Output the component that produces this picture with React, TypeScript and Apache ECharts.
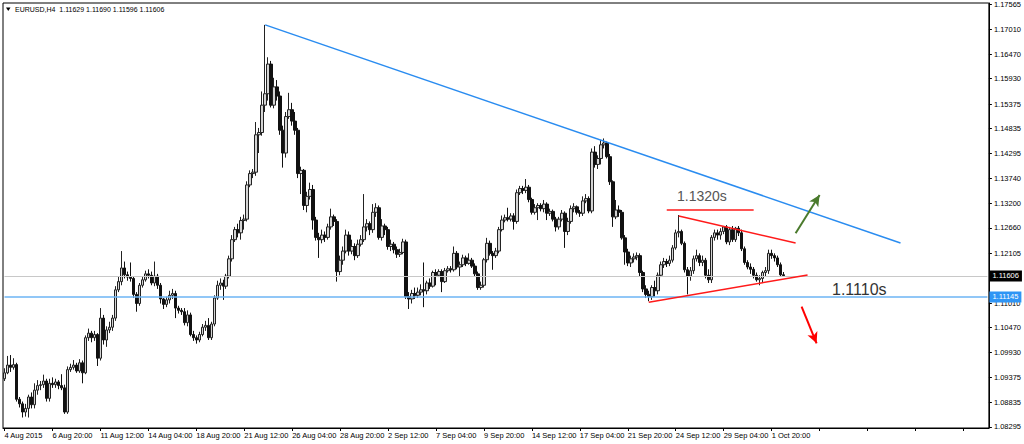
import React, { useEffect, useRef } from "react";
import * as echarts from "echarts";

// ---- x-axis tick labels (every 16th H4 bar) ----
const tickLabels = [
  "4 Aug 2015", "6 Aug 20:00", "11 Aug 12:00", "14 Aug 04:00", "18 Aug 20:00",
  "21 Aug 12:00", "26 Aug 04:00", "28 Aug 20:00", "2 Sep 12:00", "7 Sep 04:00",
  "9 Sep 20:00", "14 Sep 12:00", "17 Sep 04:00", "21 Sep 20:00", "24 Sep 12:00",
  "29 Sep 04:00", "1 Oct 20:00",
];
const tickEvery = 16;

// ---- y-axis tick labels ----
const yTicks = [
  1.08295, 1.08835, 1.09375, 1.0993, 1.1047, 1.1101, 1.12105, 1.1266, 1.132,
  1.1374, 1.14295, 1.14835, 1.15375, 1.1593, 1.1647, 1.1701, 1.17565,
];

// empty bar slots to the right of the last bar (chart shift)
const emptySlots = 68;

// ---- OHLC values of the EURUSD H4 bars ----
const opens = [
  1.0935, 1.0948, 1.0965, 1.0960, 1.0966, 1.0890, 1.0880, 1.0862, 1.0870, 1.0895,
  1.0878, 1.0910, 1.0920, 1.0922, 1.0930, 1.0892, 1.0925, 1.0922, 1.0928, 1.0920,
  1.0915, 1.0862, 1.0955, 1.0960, 1.0965, 1.0952, 1.0970, 1.0948, 1.1025, 1.1035,
  1.1025, 1.1032, 1.0980, 1.1068, 1.1020, 1.1042, 1.1048, 1.1068, 1.1130, 1.1148,
  1.1178, 1.1163, 1.1158, 1.1155, 1.1120, 1.1100, 1.1140, 1.1152, 1.1165, 1.1162,
  1.1145, 1.1160, 1.1140, 1.1110, 1.1098, 1.1108, 1.1118, 1.1122, 1.1090, 1.1085,
  1.1082, 1.1058, 1.1075, 1.1032, 1.1025, 1.1020, 1.1032, 1.1048, 1.1052, 1.1025,
  1.1055, 1.1112, 1.1140, 1.1145, 1.1138, 1.1160, 1.1198, 1.1240, 1.1262, 1.1255,
  1.1282, 1.1285, 1.1360, 1.1385, 1.1388, 1.1470, 1.1475, 1.1535, 1.1560, 1.1625,
  1.1535, 1.1575, 1.1555, 1.1480, 1.1430, 1.1510, 1.1525, 1.1500, 1.1480, 1.1385,
  1.1392, 1.1315, 1.1335, 1.1350, 1.1283, 1.1245, 1.1240, 1.1250, 1.1245, 1.1268,
  1.1290, 1.1280, 1.1170, 1.1195, 1.1215, 1.1250, 1.1215, 1.1225, 1.1205, 1.1230,
  1.1240, 1.1268, 1.1275, 1.1262, 1.1300, 1.1310, 1.1245, 1.1270, 1.1262, 1.1225,
  1.1230, 1.1218, 1.1208, 1.1212, 1.1235, 1.1115, 1.1110, 1.1122, 1.1118, 1.1125,
  1.1130, 1.1128, 1.1145, 1.1138, 1.1168, 1.1162, 1.1170, 1.1148, 1.1172, 1.1176,
  1.1174, 1.1210, 1.1180, 1.1185, 1.1200, 1.1188, 1.1195, 1.1182, 1.1165, 1.1135,
  1.1140, 1.1196, 1.1232, 1.1210, 1.1205, 1.1215, 1.1262, 1.1283, 1.1288, 1.1285,
  1.1292, 1.1280, 1.1343, 1.1352, 1.1348, 1.1355, 1.1328, 1.1300, 1.1310, 1.1315,
  1.1308, 1.1318, 1.1298, 1.1302, 1.1285, 1.1268, 1.1285, 1.1298, 1.1258, 1.1280,
  1.1308, 1.1312, 1.1300, 1.1298, 1.1325, 1.1330, 1.1303, 1.1432, 1.1405, 1.1418,
  1.1448, 1.1452, 1.1422, 1.1367, 1.1290, 1.1305, 1.1300, 1.1244, 1.1213, 1.1189,
  1.1198, 1.1202, 1.1205, 1.1168, 1.1132, 1.1120, 1.1115, 1.1135, 1.1128, 1.1162,
  1.1185, 1.1192, 1.1188, 1.1195, 1.1222, 1.1255, 1.1258, 1.1232, 1.1174, 1.1160,
  1.1172, 1.1198, 1.1205, 1.1190, 1.1195, 1.1162, 1.1152, 1.1245, 1.1255, 1.1250,
  1.1258, 1.1268, 1.1235, 1.1262, 1.1240, 1.1265, 1.1255, 1.1220, 1.1190, 1.1180,
  1.1175, 1.1162, 1.1152, 1.1155, 1.1168, 1.1172, 1.1210, 1.1205, 1.1200, 1.1185,
  1.1163,
];
const highs = [
  1.0958, 1.0985, 1.0987, 1.0980, 1.0970, 1.0895, 1.0885, 1.0880, 1.0900, 1.0905,
  1.0925, 1.0932, 1.0930, 1.0944, 1.0935, 1.0935, 1.0938, 1.0935, 1.0932, 1.0945,
  1.0922, 1.0962, 1.0968, 1.0976, 1.0970, 1.0978, 1.0975, 1.1030, 1.1045, 1.1040,
  1.1040, 1.1035, 1.1090, 1.1075, 1.1050, 1.1060, 1.1075, 1.1138, 1.1160, 1.1215,
  1.1192, 1.1170, 1.1190, 1.1160, 1.1125, 1.1145, 1.1158, 1.1172, 1.1175, 1.1170,
  1.1192, 1.1165, 1.1145, 1.1112, 1.1115, 1.1128, 1.1132, 1.1128, 1.1095, 1.1090,
  1.1090, 1.1085, 1.1080, 1.1040, 1.1030, 1.1038, 1.1055, 1.1062, 1.1068, 1.1060,
  1.1118, 1.1150, 1.1155, 1.1152, 1.1165, 1.1205, 1.1250, 1.1268, 1.1275, 1.1290,
  1.1295, 1.1368, 1.1392, 1.1395, 1.1498, 1.1485, 1.1565, 1.1711, 1.1640, 1.1632,
  1.1595, 1.1590, 1.1565, 1.1490, 1.1520, 1.1562, 1.1540, 1.1520, 1.1485, 1.1400,
  1.1395, 1.1345, 1.1365, 1.1360, 1.1290, 1.1255, 1.1262, 1.1258, 1.1275, 1.1308,
  1.1295, 1.1285, 1.1205, 1.1225, 1.1262, 1.1258, 1.1240, 1.1232, 1.1240, 1.1250,
  1.1340, 1.1285, 1.1280, 1.1318, 1.1320, 1.1315, 1.1285, 1.1275, 1.1268, 1.1240,
  1.1235, 1.1225, 1.1220, 1.1242, 1.1240, 1.1125, 1.1130, 1.1135, 1.1135, 1.1142,
  1.1190, 1.1150, 1.1155, 1.1172, 1.1175, 1.1175, 1.1175, 1.1178, 1.1182, 1.1182,
  1.1225, 1.1215, 1.1192, 1.1207, 1.1205, 1.1210, 1.1200, 1.1188, 1.1170, 1.1148,
  1.1200, 1.1244, 1.1238, 1.1215, 1.1222, 1.1268, 1.1293, 1.1295, 1.1310, 1.1298,
  1.1298, 1.1350, 1.1358, 1.1358, 1.1373, 1.1360, 1.1332, 1.1318, 1.1320, 1.1320,
  1.1327, 1.1322, 1.1308, 1.1306, 1.1290, 1.1290, 1.1305, 1.1302, 1.1288, 1.1315,
  1.1320, 1.1315, 1.1305, 1.1335, 1.1340, 1.1335, 1.1440, 1.1445, 1.1425, 1.1459,
  1.1462, 1.1455, 1.1428, 1.1370, 1.1327, 1.1315, 1.1305, 1.1250, 1.1220, 1.1205,
  1.1210, 1.1212, 1.1210, 1.1172, 1.1140, 1.1128, 1.1140, 1.1150, 1.1168, 1.1192,
  1.1200, 1.1198, 1.1205, 1.1228, 1.1262, 1.1294, 1.1262, 1.1236, 1.1180, 1.1180,
  1.1205, 1.1218, 1.1210, 1.1205, 1.1200, 1.1175, 1.1250, 1.1262, 1.1262, 1.1265,
  1.1270, 1.1272, 1.1268, 1.1270, 1.1268, 1.1270, 1.1262, 1.1225, 1.1195, 1.1188,
  1.1180, 1.1168, 1.1162, 1.1172, 1.1180, 1.1218, 1.1218, 1.1210, 1.1205, 1.1190,
  1.1169,
];
const lows = [
  1.0930, 1.0945, 1.0950, 1.0955, 1.0885, 1.0872, 1.0850, 1.0852, 1.0850, 1.0870,
  1.0870, 1.0900, 1.0910, 1.0915, 1.0885, 1.0885, 1.0915, 1.0915, 1.0912, 1.0910,
  1.0858, 1.0858, 1.0950, 1.0955, 1.0948, 1.0948, 1.0925, 1.0945, 1.1018, 1.1015,
  1.1018, 1.0963, 1.0975, 1.1010, 1.1005, 1.1035, 1.1040, 1.1062, 1.1125, 1.1140,
  1.1155, 1.1150, 1.1148, 1.1112, 1.1082, 1.1095, 1.1135, 1.1148, 1.1155, 1.1140,
  1.1138, 1.1132, 1.1100, 1.1088, 1.1092, 1.1100, 1.1110, 1.1068, 1.1078, 1.1075,
  1.1052, 1.1050, 1.1028, 1.1018, 1.1012, 1.1015, 1.1028, 1.1040, 1.1020, 1.1020,
  1.1050, 1.1108, 1.1130, 1.1108, 1.1132, 1.1155, 1.1192, 1.1235, 1.1245, 1.1240,
  1.1262, 1.1280, 1.1355, 1.1375, 1.1380, 1.1430, 1.1468, 1.1520, 1.1545, 1.1530,
  1.1528, 1.1545, 1.1470, 1.1398, 1.1420, 1.1505, 1.1490, 1.1470, 1.1375, 1.1340,
  1.1305, 1.1300, 1.1328, 1.1262, 1.1238, 1.1200, 1.1232, 1.1235, 1.1240, 1.1262,
  1.1270, 1.1148, 1.1162, 1.1185, 1.1210, 1.1205, 1.1208, 1.1195, 1.1200, 1.1225,
  1.1235, 1.1258, 1.1250, 1.1255, 1.1290, 1.1240, 1.1238, 1.1250, 1.1218, 1.1215,
  1.1210, 1.1200, 1.1202, 1.1208, 1.1110, 1.1088, 1.1100, 1.1110, 1.1112, 1.1118,
  1.1092, 1.1120, 1.1132, 1.1135, 1.1140, 1.1158, 1.1125, 1.1145, 1.1168, 1.1168,
  1.1170, 1.1175, 1.1160, 1.1180, 1.1182, 1.1185, 1.1178, 1.1160, 1.1130, 1.1130,
  1.1135, 1.1190, 1.1205, 1.1174, 1.1200, 1.1210, 1.1258, 1.1278, 1.1280, 1.1280,
  1.1262, 1.1275, 1.1338, 1.1340, 1.1342, 1.1322, 1.1295, 1.1295, 1.1283, 1.1302,
  1.1300, 1.1283, 1.1292, 1.1280, 1.1258, 1.1262, 1.1280, 1.1222, 1.1250, 1.1275,
  1.1300, 1.1295, 1.1290, 1.1292, 1.1320, 1.1298, 1.1298, 1.1398, 1.1395, 1.1405,
  1.1440, 1.1418, 1.1360, 1.1268, 1.1285, 1.1290, 1.1240, 1.1185, 1.1182, 1.1180,
  1.1190, 1.1195, 1.1160, 1.1125, 1.1112, 1.1105, 1.1108, 1.1115, 1.1120, 1.1158,
  1.1178, 1.1180, 1.1182, 1.1190, 1.1218, 1.1245, 1.1228, 1.1168, 1.1120, 1.1150,
  1.1165, 1.1192, 1.1182, 1.1182, 1.1155, 1.1145, 1.1145, 1.1238, 1.1240, 1.1240,
  1.1252, 1.1230, 1.1228, 1.1235, 1.1235, 1.1248, 1.1215, 1.1185, 1.1175, 1.1165,
  1.1155, 1.1148, 1.1140, 1.1145, 1.1160, 1.1165, 1.1198, 1.1192, 1.1180, 1.1160,
  1.1160,
];
const closes = [
  1.0948, 1.0965, 1.0960, 1.0966, 1.0890, 1.0880, 1.0862, 1.0870, 1.0895, 1.0878,
  1.0910, 1.0920, 1.0922, 1.0930, 1.0892, 1.0925, 1.0922, 1.0928, 1.0920, 1.0915,
  1.0862, 1.0955, 1.0960, 1.0965, 1.0952, 1.0970, 1.0948, 1.1025, 1.1035, 1.1025,
  1.1032, 1.0980, 1.1068, 1.1020, 1.1042, 1.1048, 1.1068, 1.1130, 1.1148, 1.1178,
  1.1163, 1.1158, 1.1155, 1.1120, 1.1100, 1.1140, 1.1152, 1.1165, 1.1162, 1.1145,
  1.1160, 1.1140, 1.1110, 1.1098, 1.1108, 1.1118, 1.1122, 1.1090, 1.1085, 1.1082,
  1.1058, 1.1075, 1.1032, 1.1025, 1.1020, 1.1032, 1.1048, 1.1052, 1.1025, 1.1055,
  1.1112, 1.1140, 1.1145, 1.1138, 1.1160, 1.1198, 1.1240, 1.1262, 1.1255, 1.1282,
  1.1285, 1.1360, 1.1385, 1.1388, 1.1470, 1.1475, 1.1535, 1.1560, 1.1625, 1.1535,
  1.1575, 1.1555, 1.1480, 1.1430, 1.1510, 1.1525, 1.1500, 1.1480, 1.1385, 1.1392,
  1.1315, 1.1335, 1.1350, 1.1283, 1.1245, 1.1240, 1.1250, 1.1245, 1.1268, 1.1290,
  1.1280, 1.1170, 1.1195, 1.1215, 1.1250, 1.1215, 1.1225, 1.1205, 1.1230, 1.1240,
  1.1268, 1.1275, 1.1262, 1.1300, 1.1310, 1.1245, 1.1270, 1.1262, 1.1225, 1.1230,
  1.1218, 1.1208, 1.1212, 1.1235, 1.1115, 1.1110, 1.1122, 1.1118, 1.1125, 1.1130,
  1.1128, 1.1145, 1.1138, 1.1168, 1.1162, 1.1170, 1.1148, 1.1172, 1.1176, 1.1174,
  1.1210, 1.1180, 1.1185, 1.1200, 1.1188, 1.1195, 1.1182, 1.1165, 1.1135, 1.1140,
  1.1196, 1.1232, 1.1210, 1.1205, 1.1215, 1.1262, 1.1283, 1.1288, 1.1285, 1.1292,
  1.1280, 1.1343, 1.1352, 1.1348, 1.1355, 1.1328, 1.1300, 1.1310, 1.1315, 1.1308,
  1.1318, 1.1298, 1.1302, 1.1285, 1.1268, 1.1285, 1.1298, 1.1258, 1.1280, 1.1308,
  1.1312, 1.1300, 1.1298, 1.1325, 1.1330, 1.1303, 1.1432, 1.1405, 1.1418, 1.1448,
  1.1452, 1.1422, 1.1367, 1.1290, 1.1305, 1.1300, 1.1244, 1.1213, 1.1189, 1.1198,
  1.1202, 1.1205, 1.1168, 1.1132, 1.1120, 1.1115, 1.1135, 1.1128, 1.1162, 1.1185,
  1.1192, 1.1188, 1.1195, 1.1222, 1.1255, 1.1258, 1.1232, 1.1174, 1.1160, 1.1172,
  1.1198, 1.1205, 1.1190, 1.1195, 1.1162, 1.1152, 1.1245, 1.1255, 1.1250, 1.1258,
  1.1268, 1.1235, 1.1262, 1.1240, 1.1265, 1.1255, 1.1220, 1.1190, 1.1180, 1.1175,
  1.1162, 1.1152, 1.1155, 1.1168, 1.1172, 1.1210, 1.1205, 1.1200, 1.1185, 1.1163,
  1.1161,
];

// ---- levels and drawn objects (bar index, price) ----
const bidPrice = 1.11606;
const supportLevel = 1.11145;
const blueTrend = [[87, 1.1711], [299.2, 1.12327]];
const redUpper = [[225.2, 1.12919], [264.2, 1.12327]];
const redLower = [[214.6, 1.11026], [267.6, 1.11625]];
const redFlat = [[220.8, 1.1305], [250.2, 1.1305]];
const greenArrow = [[263.5, 1.1254], [272.4, 1.13379]];
const redArrow = [[266.1, 1.1093], [271.0, 1.10127]];

const FONT = "'Liberation Sans', Arial, sans-serif";

export default function App() {
  const ref = useRef<HTMLDivElement>(null);

  useEffect(() => {
    if (!ref.current) return;
    const chart = echarts.init(ref.current, undefined, { renderer: "svg" });
    const total = opens.length + emptySlots;
    const categories = Array.from({ length: total }, (_, i) => String(i));
    const candles = opens.map((o, i) => [o, closes[i], lows[i], highs[i]]);

    const seg = (pts: number[][], color: string, width: number, arrow = false) => [
      {
        coord: pts[0],
        symbol: "none",
        lineStyle: { color, width, type: "solid" },
      },
      arrow
        ? { coord: pts[1], symbol: "arrow", symbolSize: [8, 11] }
        : { coord: pts[1], symbol: "none" },
    ];

    // full-width horizontal price line with a price box on the axis
    const priceBox = (value: number, line: string, box: string, width: number) => [
      {
        coord: [0, value],
        symbol: "none",
        lineStyle: { color: line, width, type: "solid" },
        label: {
          show: true,
          position: "end",
          distance: 2,
          formatter: value.toFixed(5),
          color: "#fff",
          backgroundColor: box,
          padding: [2, 3, 1, 3],
          fontSize: 7.5,
          fontFamily: FONT,
        },
      },
      { coord: [total - 1, value], symbol: "none" },
    ];

    chart.setOption({
      animation: false,
      backgroundColor: "#fff",
      grid: {
        left: 3,
        right: 34,
        top: 3,
        bottom: 16,
        show: true,
        borderColor: "#000",
        borderWidth: 1,
        backgroundColor: "#fff",
      },
      xAxis: {
        type: "category",
        data: categories,
        boundaryGap: true,
        axisLine: { show: true, lineStyle: { color: "#000", width: 1 } },
        axisTick: {
          show: true,
          interval: tickEvery - 1,
          alignWithLabel: true,
          length: 3,
          lineStyle: { color: "#000" },
        },
        axisLabel: {
          interval: tickEvery - 1,
          align: "left",
          margin: 3,
          fontSize: 7.5,
          fontFamily: FONT,
          color: "#000",
          formatter: (_v: string, idx: number) =>
            idx % tickEvery === 0 ? tickLabels[idx / tickEvery] ?? "" : "",
        },
        splitLine: { show: false },
      },
      yAxis: {
        type: "value",
        position: "right",
        min: 1.0827,
        max: 1.1759,
        scale: true,
        axisLine: { show: true, lineStyle: { color: "#000", width: 1 } },
        axisTick: {
          show: true,
          length: 3,
          customValues: yTicks,
          lineStyle: { color: "#000" },
        },
        axisLabel: {
          customValues: yTicks,
          margin: 5,
          fontSize: 7.5,
          fontFamily: FONT,
          color: "#000",
          formatter: (v: number) => v.toFixed(5),
        },
        splitLine: { show: false },
      },
      series: [
        {
          type: "candlestick",
          data: candles,
          barWidth: 3,
          itemStyle: {
            color: "#d4d4d4",
            color0: "#111",
            borderColor: "#222",
            borderColor0: "#111",
            borderWidth: 1,
          },
          markLine: {
            silent: true,
            animation: false,
            symbol: "none",
            label: { show: false },
            data: [
              priceBox(bidPrice, "#c8c8c8", "#000", 1),
              priceBox(supportLevel, "#6cb4f5", "#2f95f5", 1.5),
              seg(blueTrend, "#2a8cf0", 1.5),
              seg(redFlat, "#ff1a1a", 1.5),
              seg(redUpper, "#ff1a1a", 1.5),
              seg(redLower, "#ff1a1a", 1.5),
              seg(greenArrow, "#4a7a2c", 2, true),
              seg(redArrow, "#ff0000", 2, true),
            ],
          },
        },
      ],
      graphic: [
        {
          type: "polygon",
          shape: { points: [[6, 7.5], [10.5, 7.5], [8.25, 11]] },
          style: { fill: "#000" },
        },
        {
          type: "text",
          x: 15,
          y: 9.5,
          style: {
            text: "EURUSD,H4  1.11629 1.11690 1.11596 1.11606",
            fill: "#000",
            fontSize: 7,
            fontFamily: FONT,
            verticalAlign: "middle",
          },
        },
        {
          type: "text",
          x: 677,
          y: 196,
          style: {
            text: "1.1320s",
            fill: "#555",
            fontSize: 14,
            fontFamily: FONT,
            verticalAlign: "middle",
          },
        },
        {
          type: "text",
          x: 832,
          y: 289,
          style: {
            text: "1.1110s",
            fill: "#333",
            fontSize: 16,
            fontFamily: FONT,
            verticalAlign: "middle",
          },
        },
      ],
    });

    return () => chart.dispose();
  }, []);

  return (
    <div
      ref={ref}
      style={{ position: "fixed", left: 0, top: 0, width: 1024, height: 444, background: "#fff" }}
    />
  );
}
